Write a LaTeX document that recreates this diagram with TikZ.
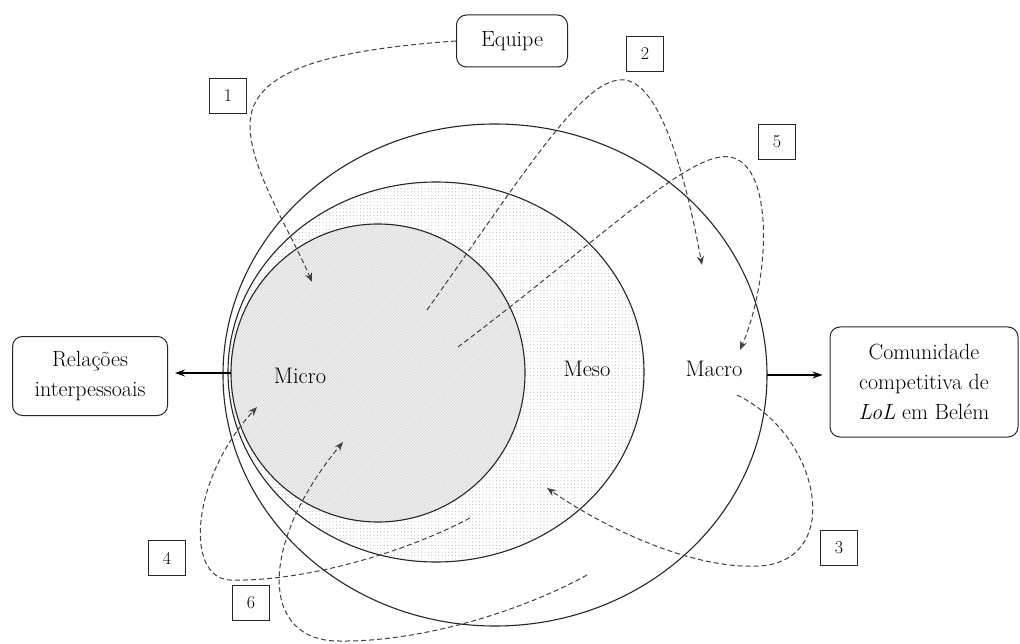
\documentclass[tikz,border=0pt]{standalone}
\usetikzlibrary{shapes.geometric,arrows.meta,patterns.meta}
\begin{document}
\begin{tikzpicture}[x=1pt,y=-1pt,
  lbl/.style={font=\fontsize{22.5}{30}\selectfont, inner sep=0pt},
  rbox/.style={draw=black!85, rounded corners=10pt, line width=1pt, align=center, font=\fontsize{22}{30}\selectfont, inner sep=0pt},
  nbox/.style={draw=black!85, line width=1pt, minimum width=37pt, minimum height=35pt, inner sep=0pt, font=\fontsize{18}{20}\selectfont},
  dasharrow/.style={draw=black!75, dash pattern=on 5pt off 3pt, line width=1pt, -{Stealth[length=9pt,width=7pt]}},
  solidarrow/.style={line width=1.1pt, -{Stealth[length=10pt,width=7pt]}, shorten >=7pt},
  ring/.style={ellipse, inner sep=0pt},
  ringline/.style={draw=black!85, line width=1.1pt}
]
\useasboundingbox (0,0) rectangle (1020,644);
\fill[white] (0,0) rectangle (1020,644);

% rings
\node[ring, fill=white, minimum width=544pt, minimum height=502pt] (macro) at (495,375) {};
\node[ring, preaction={fill=white}, pattern={Dots[distance=3.4pt,radius=0.42pt]}, pattern color=gray!80, minimum width=416pt, minimum height=380pt] (meso) at (436,372) {};
\node[ring, preaction={fill=gray!12}, pattern={Lines[angle=45,distance=2pt,line width=0.35pt]}, pattern color=gray!40, minimum width=294pt, minimum height=298pt] (micro) at (378,373) {};
\draw[ringline] (macro.center) ellipse [x radius=272, y radius=251];
\draw[ringline] (meso.center) ellipse [x radius=208, y radius=190];
\draw[ringline] (micro.center) ellipse [x radius=147, y radius=149];

% labels
\node[lbl] (tmicro) at (300,376) {Micro};
\node[lbl] (tmeso) at (587,369) {Meso};
\node[lbl] (tmacro) at (714,369) {Macro};

% boxes
\node[rbox, minimum width=111pt, minimum height=52pt] (equipe) at (512,41) {Equipe};
\node[rbox, minimum width=155pt, minimum height=79pt] (rel) at (90,376) {Relações\\interpessoais};
\node[rbox, minimum width=188pt, minimum height=110pt] (com) at (924,382) {Comunidade\\competitiva de\\\textit{LoL} em Belém};

% number boxes
\node[nbox] (n1) at (228,96) {1};
\node[nbox] (n2) at (645,54) {2};
\node[nbox] (n3) at (839,548) {3};
\node[nbox] (n4) at (167,558) {4};
\node[nbox] (n5) at (777,142) {5};
\node[nbox] (n6) at (251,603) {6};

% solid arrows
\draw[solidarrow] (micro.west) -- (rel.east |- micro.west);
\draw[solidarrow] (macro.east) -- (com.west |- macro.east);

% dashed arrows
\coordinate (a1) at (312,282);
\coordinate (s2) at (427,310);
\coordinate (a2) at (702,265);
\coordinate (s5) at (458,347);
\coordinate (a5) at (740,350);
\coordinate (s3) at (737,395);
\coordinate (a3) at (547,488);
\coordinate (s4) at (470,518);
\coordinate (a4) at (257,407);
\coordinate (s6) at (587,575);
\coordinate (a6) at (343,442);

\draw[dasharrow] (equipe.west) .. controls (330,50) and (250,70) .. (250,125) .. controls (250,170) and (290,230) .. (a1);
\draw[dasharrow] (s2) .. controls (530,165) and (585,75) .. (625,80) .. controls (665,85) and (690,200) .. (a2);
\draw[dasharrow] (s5) .. controls (600,240) and (690,150) .. (730,157) .. controls (775,165) and (770,280) .. (a5);
\draw[dasharrow] (s3) .. controls (820,435) and (845,560) .. (760,566) .. controls (690,570) and (600,525) .. (a3);
\draw[dasharrow] (s4) .. controls (400,555) and (300,582) .. (230,580) .. controls (185,578) and (190,480) .. (a4);
\draw[dasharrow] (s6) .. controls (520,612) and (420,642) .. (340,641) .. controls (260,642) and (258,545) .. (a6);
\end{tikzpicture}
\end{document}
